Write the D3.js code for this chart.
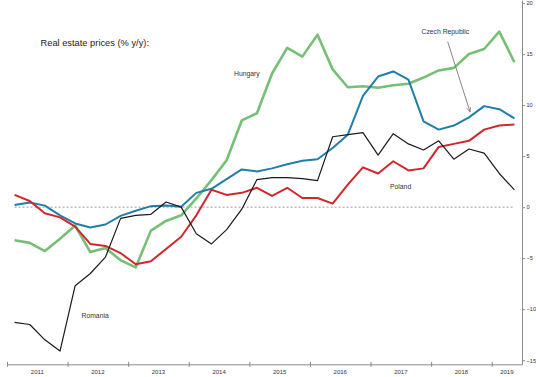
<!DOCTYPE html>
<html>
<head>
<meta charset="utf-8">
<script src="https://cdn.jsdelivr.net/npm/d3@7"></script>
<style>
  body { margin: 0; background: #fff; }
  svg { display: block; font-family: "Liberation Sans", Arial, sans-serif; }
  .axis path, .axis line { stroke: #8c8c8c; }
  .axis text { fill: #333; font-size: 6px; }
  .yaxis text { font-size: 5.6px; }
</style>
</head>
<body>
<div id="chart"></div>
<script>
// quarterly data, 2011Q1 .. 2019Q2
var years = ["2011", "2012", "2013", "2014", "2015", "2016", "2017", "2018", "2019"];
var yTicks = [-15, -10, -5, 0, 5, 10, 15, 20];

var hungary = [-3.25, -3.5, -4.3, -3.1, -1.8, -4.4, -4.0, -5.2, -5.9, -2.3, -1.35, -0.8,
  0.85, 2.65, 4.6, 8.5, 9.2, 13.1, 15.6, 14.75, 16.9, 13.5, 11.75, 11.85,
  11.7, 11.95, 12.1, 12.7, 13.4, 13.65, 15.0, 15.5, 17.2, 14.2];

var czech = [0.2, 0.45, 0.15, -0.8, -1.6, -2.0, -1.7, -0.85, -0.35, 0.1, 0.15, 0.05,
  1.4, 1.8, 2.75, 3.7, 3.5, 3.8, 4.2, 4.55, 4.7, 5.8, 7.1, 10.9,
  12.8, 13.3, 12.5, 8.4, 7.6, 8.0, 8.8, 9.9, 9.6, 8.7];

var poland = [1.2, 0.6, -0.6, -1.0, -1.9, -3.6, -3.8, -4.5, -5.6, -5.3, -4.1, -2.9,
  -0.8, 1.7, 1.2, 1.4, 1.9, 1.1, 1.9, 0.9, 0.9, 0.35, 2.2, 3.9,
  3.3, 4.5, 3.6, 3.8, 5.9, 6.2, 6.5, 7.6, 8.0, 8.1];

var romania = [-11.3, -11.5, -13.0, -14.1, -7.7, -6.5, -4.9, -1.1, -0.8, -0.7, 0.5, 0.0,
  -2.6, -3.6, -2.2, -0.2, 2.7, 2.9, 2.9, 2.8, 2.6, 6.9, 7.1, 7.3,
  5.1, 7.2, 6.2, 5.6, 6.5, 4.7, 5.7, 5.3, 3.3, 1.7];

var series = [
  {name: "Hungary", values: hungary, color: "#76bf76", width: 2.6},
  {name: "Czech Republic", values: czech, color: "#1f7fa6", width: 2},
  {name: "Poland", values: poland, color: "#d2262c", width: 2},
  {name: "Romania", values: romania, color: "#1a1a1a", width: 1.2}
];

var width = 536,
    height = 377,
    left = 7,
    right = 522,
    bottom = 364.3;

var svg = d3.select("#chart").append("svg")
  .attr("width", width)
  .attr("height", height);

var xScale = d3.scaleLinear()
  .domain([0, 34])
  .range([left, right]);

var yScale = d3.scaleLinear()
  .domain([-15.4, 20.3])
  .range([bottom, 0]);

// zero line
svg.append("line")
  .attr("x1", xScale(0.5))
  .attr("x2", xScale(33.5))
  .attr("y1", yScale(0))
  .attr("y2", yScale(0))
  .attr("stroke", "#9a9a9a")
  .attr("stroke-width", 1)
  .attr("stroke-dasharray", "2,2");

var line = d3.line()
  .x(function (d, i) { return xScale(i + 0.5); })
  .y(function (d) { return yScale(d); });

svg.append("g")
  .selectAll("path")
  .data(series)
  .enter()
  .append("path")
  .attr("d", function (d) { return line(d.values); })
  .attr("fill", "none")
  .attr("stroke", function (d) { return d.color; })
  .attr("stroke-width", function (d) { return d.width; })
  .attr("stroke-linejoin", "round");

// axes
var xAxis = d3.axisBottom(xScale)
  .tickValues(d3.range(0, 34, 4))
  .tickSizeInner(2.5)
  .tickSizeOuter(0)
  .tickFormat("");

var gx = svg.append("g")
  .attr("class", "axis")
  .attr("transform", "translate(0," + bottom + ")")
  .call(xAxis);
gx.selectAll(".tick line").attr("y1", -2.5).attr("y2", 2.5);

svg.append("g")
  .attr("class", "axis")
  .selectAll("text")
  .data(years)
  .enter()
  .append("text")
  .attr("x", function (d, i) { return i < 8 ? xScale(i * 4 + 2) : xScale(33); })
  .attr("y", 373.5)
  .attr("text-anchor", "middle")
  .text(function (d) { return d; });

var yAxis = d3.axisRight(yScale)
  .tickValues(yTicks)
  .tickSizeInner(3)
  .tickSizeOuter(0)
  .tickPadding(1.5);

svg.append("g")
  .attr("class", "axis yaxis")
  .attr("transform", "translate(" + right + ",0)")
  .call(yAxis);

// labels
svg.append("text")
  .attr("x", 40.5)
  .attr("y", 46)
  .attr("font-size", 9.3)
  .attr("fill", "#222")
  .text("Real estate prices (% y/y):");

var notes = [
  {text: "Hungary", x: 234, y: 76},
  {text: "Czech Republic", x: 421.5, y: 33.5},
  {text: "Poland", x: 390, y: 188.5},
  {text: "Romania", x: 81.5, y: 317.5}
];

svg.append("g")
  .selectAll("text")
  .data(notes)
  .enter()
  .append("text")
  .attr("x", function (d) { return d.x; })
  .attr("y", function (d) { return d.y; })
  .attr("font-size", 6.8)
  .attr("fill", "#333")
  .text(function (d) { return d.text; });

// arrow to the Czech line
svg.append("defs").append("marker")
  .attr("id", "arrow")
  .attr("viewBox", "0 0 10 10")
  .attr("refX", 9)
  .attr("refY", 5)
  .attr("markerWidth", 6)
  .attr("markerHeight", 6)
  .attr("orient", "auto")
  .append("path")
  .attr("d", "M1,1 L9,5 L1,9")
  .attr("fill", "none")
  .attr("stroke", "#666")
  .attr("stroke-width", 1.2);

svg.append("line")
  .attr("x1", 447.7)
  .attr("y1", 41.7)
  .attr("x2", 470)
  .attr("y2", 111.8)
  .attr("stroke", "#777")
  .attr("stroke-width", 0.9)
  .attr("marker-end", "url(#arrow)");
</script>
</body>
</html>
